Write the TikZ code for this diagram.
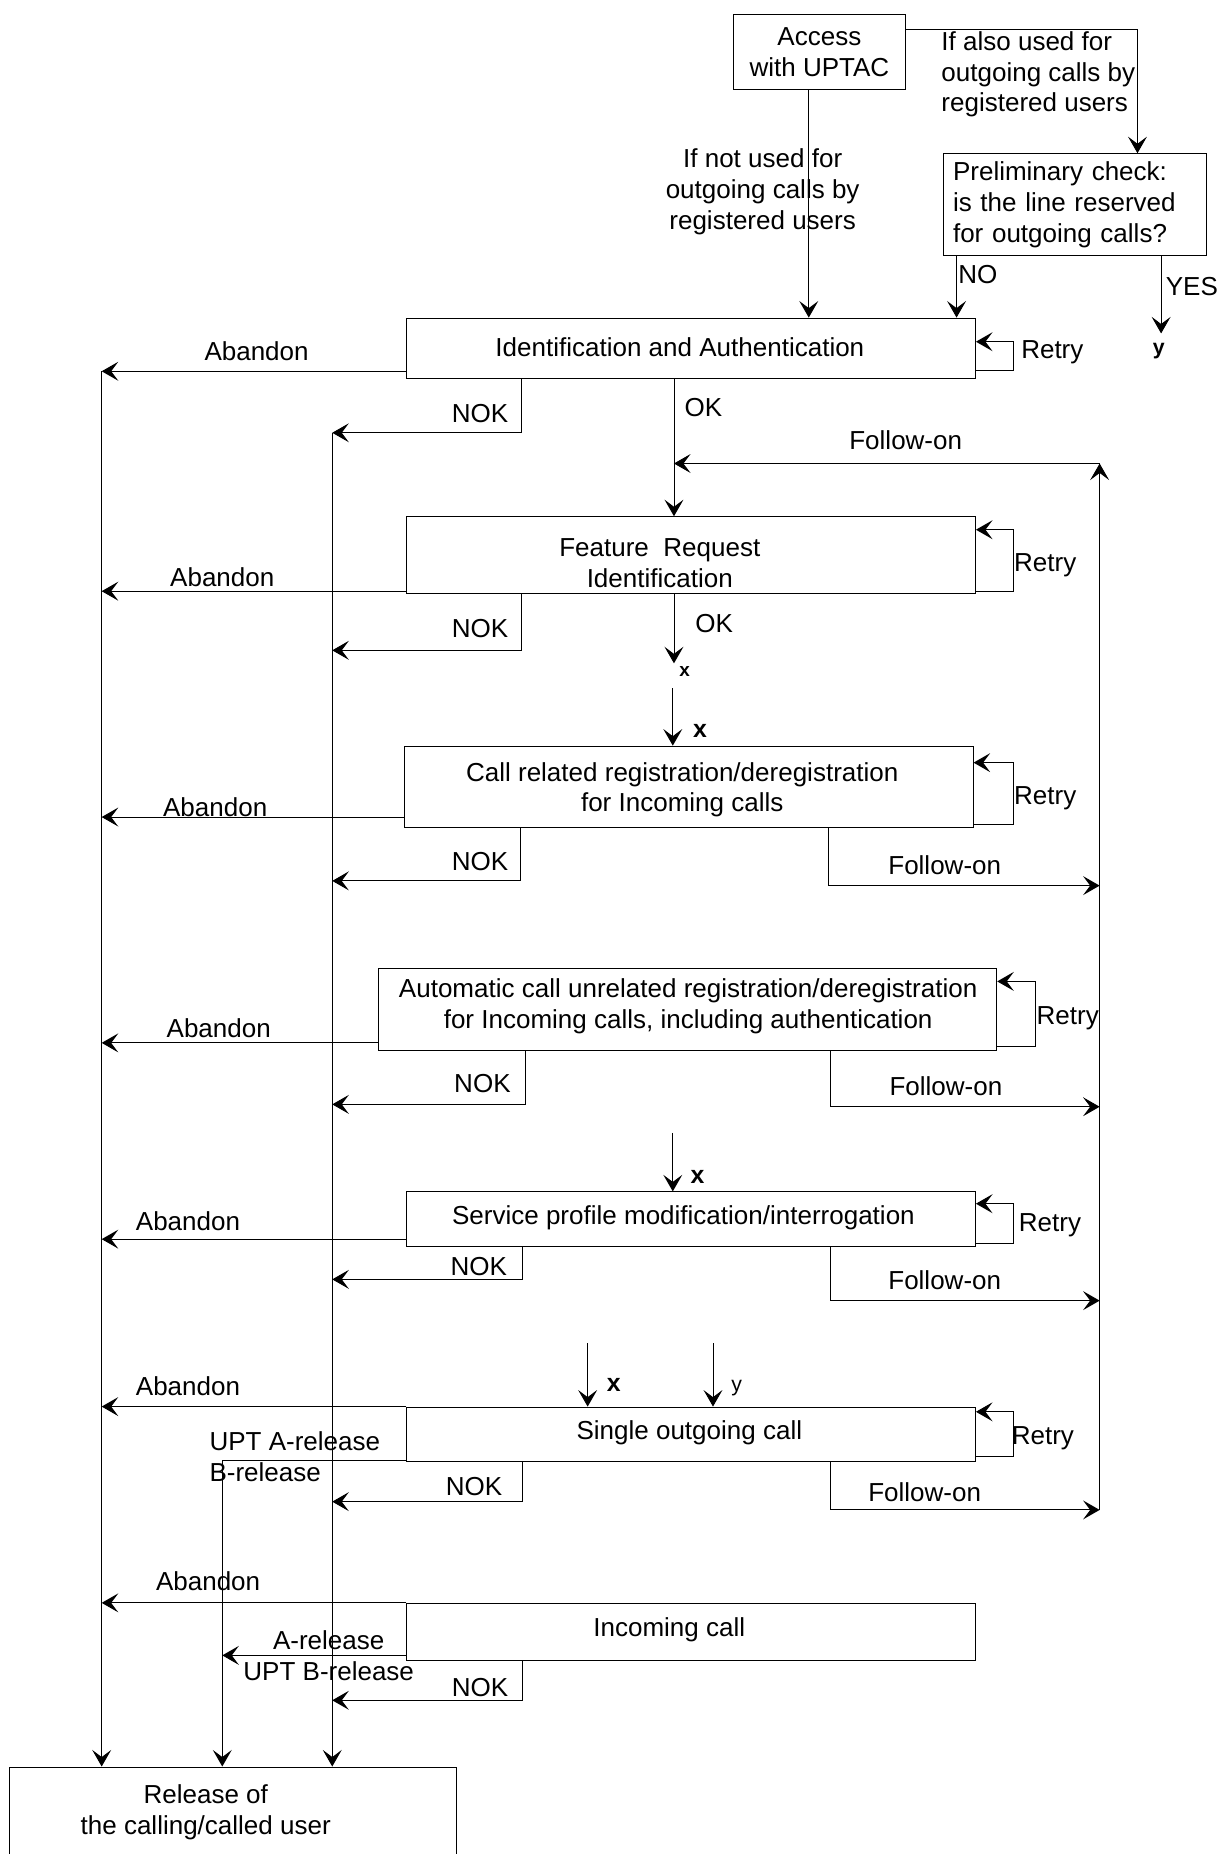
\documentclass[tikz,border=0pt]{standalone}
\usepackage{fontspec}
\setmainfont{Liberation Sans}
\usetikzlibrary{arrows.meta,calc}
\tikzset{
  box/.style={draw, line width=0.8pt, inner sep=0pt},
  arr/.style={line width=0.8pt, -{Stealth[length=14pt,width=16pt,inset=6pt]}},
  lbl/.style={inner sep=0pt, align=center},
  tag/.style={inner sep=0pt, font=\fontsize{21}{23}\selectfont\bfseries},
  smalltag/.style={inner sep=0pt, font=\fontsize{16}{18}\selectfont\bfseries},
}
\begin{document}
\begin{tikzpicture}[x=1pt,y=-1pt,font=\fontsize{22}{26}\selectfont]
\useasboundingbox (0,0) rectangle (1032,1568);

% ---------- boxes
\node[box, minimum width=146pt, minimum height=64pt, align=center] (access) at (693,44) {Access\\with UPTAC};
\node[box, minimum width=222pt, minimum height=86pt, text width=206pt, align=left] (prelim) at (909,173) {Preliminary check:\\is the line reserved\\for outgoing calls?};
\node[box, minimum width=481pt, minimum height=51pt] (ident) at (584.5,294.5) {};
\node[box, minimum width=481pt, minimum height=65pt] (feature) at (584.5,469.5) {};
\node[box, minimum width=481pt, minimum height=69pt] (callrel) at (582.5,665.5) {};
\node[box, minimum width=523pt, minimum height=69pt] (auto) at (581.5,853.5) {};
\node[box, minimum width=481pt, minimum height=46pt] (service) at (584.5,1031) {};
\node[box, minimum width=481pt, minimum height=46pt] (single) at (584.5,1213) {};
\node[box, minimum width=481pt, minimum height=48pt] (incoming) at (584.5,1380) {};
\node[box, minimum width=378pt, minimum height=80pt, anchor=north] (release) at (197,1494) {};

% ---------- box texts
\node[lbl] (identtxt) at (575,294) {Identification and Authentication};
\node[lbl] (featuretxt) at (558,476) {Feature\ \ Request\\Identification};
\node[lbl] (callreltxt) at (577,668) {Call related registration/deregistration\\for Incoming calls};
\node[lbl] (autotxt) at (582,851) {Automatic call unrelated registration/deregistration\\for Incoming calls, including authentication};
\node[lbl] (servicetxt) at (578,1030) {Service profile modification/interrogation};
\node[lbl] (singletxt) at (583,1212) {Single outgoing call};
\node[lbl] (incomingtxt) at (566,1378) {Incoming call};
\node[lbl] (releasetxt) at (174,1533) {Release of\\the calling/called user};

% ---------- rails
\coordinate (rA) at (86,0);
\coordinate (rN) at (281,0);
\coordinate (rR) at (188,0);
\coordinate (rF) at (930,0);

% ---------- top part
\draw[arr] ([yshift=19pt]access.east) -| ([xshift=53pt]prelim.north);
\draw[arr] ([xshift=-9pt]access.south) -- (ident.north -| 684,0);
\draw[arr] ([xshift=-100pt]prelim.south) -- (ident.north -| 809,0);
\coordinate (yend) at (982,282);
\draw[arr] (prelim.south -| yend) -- (yend);

\node[lbl, anchor=west, align=left] (alsoused) at (796,63) {If also used for\\outgoing calls by\\registered users};
\node[lbl] (notused) at (645,162) {If not used for\\outgoing calls by\\registered users};
\node[lbl] (nolbl) at (827,232) {NO};
\node[lbl] (yeslbl) at (1008,242) {YES};
\node[smalltag, font=\fontsize{18}{20}\selectfont\bfseries] (ytag1) at (980,297) {y};

% ---------- identification
\draw[arr] (ident.west |- 0,314) -- (rA |- 0,314);
\draw[arr] (ident.south -| 441,0) |- (rN |- 0,366);
\draw[arr] (ident.east |- 0,313) -- ++(32,0) |- (ident.east |- 0,289);
\draw[arr] (ident.south -| 570,0) -- (feature.north -| 570,0);
\node[lbl] (ab1) at (217,297) {Abandon};
\node[lbl] (nok1) at (406,350) {NOK};
\node[lbl] (ok1) at (595,345) {OK};
\node[lbl] (re1) at (890,298) {Retry};

% ---------- follow-on rail
\coordinate (okjoin) at (570,392);
\draw[arr] (rF |- 0,1277) -- (rF |- okjoin);
\draw[arr] (rF |- okjoin) -- (okjoin);
\node[lbl] (fo0) at (766,372) {Follow-on};

% ---------- feature request
\draw[arr] (feature.west |- 0,500) -- (rA |- 0,500);
\draw[arr] (feature.south -| 441,0) |- (rN |- 0,550);
\draw[arr] (feature.east |- 0,500) -- ++(32,0) |- (feature.east |- 0,448);
\coordinate (xaend) at (570,561);
\draw[arr] (feature.south -| xaend) -- (xaend);
\node[lbl] (ab2) at (188,488) {Abandon};
\node[lbl] (nok2) at (406,532) {NOK};
\node[lbl] (ok2) at (604,527) {OK};
\node[lbl] (re2) at (884,478) {Retry};
\node[smalltag] (xtag1) at (579,568) {x};

% ---------- call related
\coordinate (xbstart) at (569,582);
\draw[arr] (xbstart) -- (callrel.north -| xbstart);
\node[tag] (xtag2) at (592,618) {x};
\draw[arr] (callrel.west |- 0,691) -- (rA |- 0,691);
\draw[arr] (callrel.south -| 440,0) |- (rN |- 0,745);
\draw[arr] (callrel.east |- 0,697) -- ++(34,0) |- (callrel.east |- 0,645);
\draw[arr] (callrel.south -| 701,0) |- (rF |- 0,749);
\node[lbl] (ab3) at (182,683) {Abandon};
\node[lbl] (nok3) at (406,729) {NOK};
\node[lbl] (re3) at (884,675) {Retry};
\node[lbl] (fo3) at (799,732) {Follow-on};

% ---------- automatic
\draw[arr] (auto.west |- 0,882) -- (rA |- 0,882);
\draw[arr] (auto.south -| 444,0) |- (rN |- 0,934);
\draw[arr] (auto.east |- 0,885) -- ++(32,0) |- (auto.east |- 0,830);
\draw[arr] (auto.south -| 702,0) |- (rF |- 0,936);
\node[lbl] (ab4) at (185,870) {Abandon};
\node[lbl] (nok4) at (408,916) {NOK};
\node[lbl] (re4) at (903,861) {Retry};
\node[lbl] (fo4) at (800,919) {Follow-on};

% ---------- service profile
\coordinate (xcstart) at (569,958);
\draw[arr] (xcstart) -- (service.north -| xcstart);
\node[tag] (xtag3) at (590,995) {x};
\draw[arr] (service.west |- 0,1048) -- (rA |- 0,1048);
\draw[arr] (service.south -| 442,0) |- (rN |- 0,1082);
\draw[arr] (service.east |- 0,1052) -- ++(32,0) |- (service.east |- 0,1018);
\draw[arr] (service.south -| 702,0) |- (rF |- 0,1100);
\node[lbl] (ab5) at (159,1033) {Abandon};
\node[lbl] (nok5) at (405,1071) {NOK};
\node[lbl] (re5) at (888,1036) {Retry};
\node[lbl] (fo5) at (799,1083) {Follow-on};

% ---------- single outgoing call
\coordinate (xdstart) at (497,1136);
\coordinate (ydstart) at (603,1136);
\draw[arr] (xdstart) -- (single.north -| xdstart);
\draw[arr] (ydstart) -- (single.north -| ydstart);
\node[tag] (xtag4) at (519,1171) {x};
\node[inner sep=0pt, font=\fontsize{18}{20}\selectfont] (ytag2) at (623,1174) {y};
\draw[arr] (single.north west) -- (rA |- single.north);
\draw[arr] (single.west |- 0,1235) -| (rR |- release.north);
\draw[arr] (single.south -| 442,0) |- (rN |- 0,1270);
\draw[arr] (single.east |- 0,1232) -- ++(32,0) |- (single.east |- 0,1194);
\draw[arr] (single.south -| 702,0) |- (rF |- 0,1277);
\node[lbl] (ab6) at (159,1172) {Abandon};
\node[lbl, anchor=west, align=left] (upta) at (177,1232) {UPT A-release\\B-release};
\node[lbl] (nok6) at (401,1257) {NOK};
\node[lbl] (re6) at (882,1216) {Retry};
\node[lbl] (fo6) at (782,1262) {Follow-on};

% ---------- incoming call
\draw[arr] (incoming.north west) -- (rA |- incoming.north);
\draw[arr] (incoming.west |- 0,1400) -- (rR |- 0,1400);
\draw[arr] (incoming.south -| 442,0) |- (rN |- 0,1438);
\node[lbl] (ab7) at (176,1337) {Abandon};
\node[lbl] (uptb) at (278,1400) {A-release\\UPT B-release};
\node[lbl] (nok7) at (406,1427) {NOK};

% ---------- rails down to release
\draw[arr] (rA |- 0,314) -- (rA |- release.north);
\draw[arr] (rN |- 0,366) -- (rN |- release.north);
\end{tikzpicture}
\end{document}
